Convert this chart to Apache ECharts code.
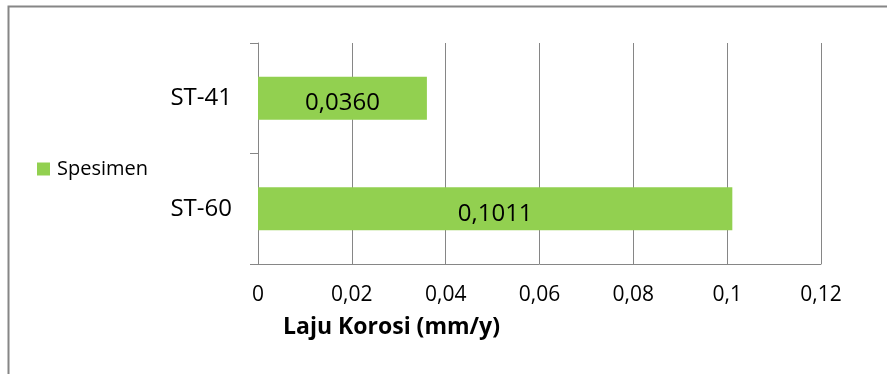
<!DOCTYPE html>
<html><head><meta charset="utf-8">
<script src="https://cdn.jsdelivr.net/npm/echarts@6/dist/echarts.min.js"></script>
<style>html,body{margin:0;padding:0;background:#fff}#c{width:887px;height:374px}</style>
</head><body><div id="c"></div>
<script>
var categories = ['ST-41', 'ST-60'];
var seriesName = 'Spesimen';
var values = [0.0360, 0.1011];
var valueLabels = ['0,0360', '0,1011'];
var axisTitle = 'Laju Korosi (mm/y)';

var FONT = '"Open Sans", "Noto Sans", sans-serif';
var chart = echarts.init(document.getElementById('c'));
chart.setOption({
  animation: false,
  backgroundColor: '#fff',
  textStyle: { fontFamily: FONT },
  grid: { left: 258, right: 66, top: 43, bottom: 110 },
  legend: {
    data: [{ name: seriesName, icon: 'rect' }], left: 32, top: 154, orient: 'vertical',
    itemWidth: 13, itemHeight: 13, itemGap: 8,
    textStyle: { fontSize: 20, color: '#000', fontFamily: FONT, padding: [0, 0, 0, 2] }
  },
  xAxis: {
    type: 'value', min: 0, max: 0.12, interval: 0.02,
    axisLine: { show: true, lineStyle: { color: '#868686', width: 1 } },
    axisTick: { show: false },
    splitLine: { show: true, lineStyle: { color: '#868686', width: 1 } },
    axisLabel: {
      fontSize: 21, color: '#000', margin: 21, fontFamily: FONT,
      formatter: function (v) { return String(+v.toFixed(2)).replace('.', ','); }
    }
  },
  yAxis: {
    type: 'category', data: categories, inverse: true,
    axisLine: { show: true, lineStyle: { color: '#868686', width: 1 } },
    axisTick: { show: true, length: 8, lineStyle: { color: '#868686' } },
    axisLabel: { fontSize: 24, color: '#000', margin: 26, fontFamily: FONT },
    splitLine: { show: false }
  },
  title: {
    text: axisTitle, left: 283, top: 316, padding: 0,
    textStyle: { fontSize: 23, fontWeight: 'bold', color: '#000', fontFamily: FONT }
  },
  graphic: [{
    type: 'rect', shape: { x: 8.5, y: 6.5, width: 900, height: 400 },
    style: { fill: 'none', stroke: '#868686', lineWidth: 2 }, silent: true
  }],
  series: [{
    name: seriesName, type: 'bar', data: values, barWidth: 43,
    itemStyle: { color: '#92d050' },
    label: {
      show: true, position: 'inside', offset: [0, 5], fontSize: 24, color: '#000', fontFamily: FONT,
      formatter: function (p) { return valueLabels[p.dataIndex]; }
    }
  }]
});
</script></body></html>
